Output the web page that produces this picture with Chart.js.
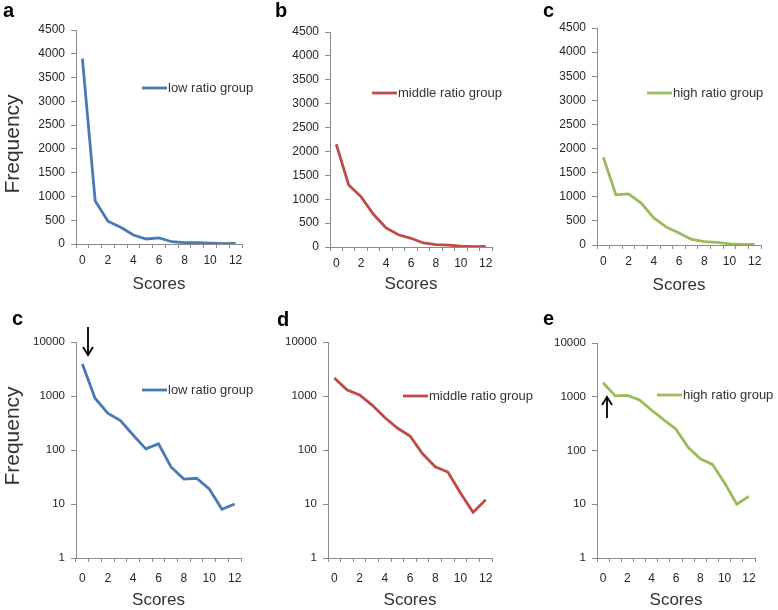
<!DOCTYPE html>
<html>
<head>
<meta charset="utf-8">
<script src="https://cdn.jsdelivr.net/npm/chart.js@4"></script>
<style>
  body { margin: 0; background: #fff; width: 778px; height: 610px; position: relative; overflow: hidden; }
  canvas { position: absolute; }
</style>
</head>
<body>
<canvas id="panelA"></canvas>
<canvas id="panelB"></canvas>
<canvas id="panelC"></canvas>
<canvas id="panelC2"></canvas>
<canvas id="panelD"></canvas>
<canvas id="panelE"></canvas>
<script>
// data
const scores = ['0', '1', '2', '3', '4', '5', '6', '7', '8', '9', '10', '11', '12'];
const lowRatio = [3900, 910, 480, 350, 190, 105, 130, 48, 29, 30, 19, 8, 10];
const middleRatio = [2150, 1300, 1050, 680, 400, 255, 182, 85, 49, 39, 16, 7, 12];
const highRatio = [1820, 1040, 1060, 870, 560, 370, 250, 115, 70, 55, 25, 10, 14];
const linearTicks = [0, 500, 1000, 1500, 2000, 2500, 3000, 3500, 4000, 4500];
const logTicks = [1, 10, 100, 1000, 10000];

const FONT = '"Liberation Sans", Arial, sans-serif';
const BLUE = '#4a7ab5';
const RED = '#be4b48';
const GREEN = '#9bbb59';

// draws the panel letter, the y title, the inline legend and the arrows
const panelDecor = {
    id: 'panelDecor',
    afterDraw(chart, args, opts) {
        const ctx = chart.ctx;
        const ds = chart.data.datasets[0];
        ctx.save();
        ctx.fillStyle = '#000';
        ctx.font = 'bold 20px ' + FONT;
        ctx.textBaseline = 'alphabetic';
        ctx.fillText(opts.letter, opts.letterX, opts.letterY);

        if (opts.yTitle) {
            ctx.save();
            ctx.translate(opts.yTitle.x, opts.yTitle.y);
            ctx.rotate(-Math.PI / 2);
            ctx.fillStyle = '#333';
            ctx.font = '21px ' + FONT;
            ctx.textAlign = 'center';
            ctx.textBaseline = 'middle';
            ctx.fillText('Frequency', 0, 0);
            ctx.restore();
        }

        ctx.strokeStyle = ds.borderColor;
        ctx.lineWidth = ds.borderWidth;
        ctx.beginPath();
        ctx.moveTo(opts.legendX, opts.legendY);
        ctx.lineTo(opts.legendX + 25, opts.legendY);
        ctx.stroke();
        ctx.fillStyle = '#333';
        ctx.font = '13px ' + FONT;
        ctx.textBaseline = 'middle';
        ctx.fillText(ds.label, opts.legendX + 26, opts.legendY);

        if (opts.arrow) {
            const a = opts.arrow;
            const dir = a.tipY > a.tailY ? -1 : 1;
            ctx.strokeStyle = '#000';
            ctx.lineWidth = 1.8;
            ctx.beginPath();
            ctx.moveTo(a.x, a.tailY);
            ctx.lineTo(a.x, a.tipY);
            ctx.moveTo(a.x - 5, a.tipY + dir * 8);
            ctx.lineTo(a.x, a.tipY);
            ctx.lineTo(a.x + 5, a.tipY + dir * 8);
            ctx.stroke();
        }
        ctx.restore();
    }
};

function makePanel(id, cell, area, cfg) {
    const canvas = document.getElementById(id);
    canvas.width = cell.w;
    canvas.height = cell.h;
    canvas.style.left = cell.x + 'px';
    canvas.style.top = cell.y + 'px';

    const yWidth = area.l - cell.x;
    const xHeight = cfg.scoresY + 10 - area.b;
    const isLog = cfg.log;

    const yScale = {
        type: isLog ? 'logarithmic' : 'linear',
        min: isLog ? 1 : 0,
        max: isLog ? 10000 : 4500,
        afterBuildTicks: s => { s.ticks = (isLog ? logTicks : linearTicks).map(v => ({ value: v })); },
        afterFit: s => { s.width = yWidth; },
        border: { color: '#8c8c8c', width: 1 },
        grid: { drawOnChartArea: false, tickLength: 5, color: '#8c8c8c' },
        ticks: {
            padding: 6,
            color: '#262626',
            font: { family: FONT, size: isLog ? 11.5 : 12 },
            callback: v => String(v)
        }
    };

    const xScale = {
        type: 'category',
        offset: true,
        afterFit: s => { s.height = xHeight; },
        border: { color: '#8c8c8c', width: 1 },
        grid: { offset: true, drawOnChartArea: false, tickLength: 4, color: '#8c8c8c' },
        ticks: {
            autoSkip: false,
            maxRotation: 0,
            padding: cfg.log ? 9 : 5,
            color: '#262626',
            font: { family: FONT, size: 12 },
            callback: (v, i) => (i % 2 === 0 ? scores[i] : '')
        },
        title: {
            display: true,
            text: 'Scores',
            color: '#333',
            font: { family: FONT, size: 17 },
            padding: 0
        }
    };

    const off = p => ({ x: p[0] - cell.x, y: p[1] - cell.y });
    const letter = off(cfg.letterAt);
    const legend = off(cfg.legendAt);
    const yTitle = cfg.yTitleAt ? off(cfg.yTitleAt) : null;
    let arrow = null;
    if (cfg.arrow) {
        arrow = {
            x: cfg.arrow.x - cell.x,
            tailY: cfg.arrow.tailY - cell.y,
            tipY: cfg.arrow.tipY - cell.y
        };
    }

    return new Chart(canvas, {
        type: 'line',
        data: {
            labels: scores,
            datasets: [{
                label: cfg.label,
                data: cfg.values,
                borderColor: cfg.color,
                borderWidth: 2.8,
                pointRadius: 0,
                tension: 0,
                fill: false
            }]
        },
        options: {
            responsive: false,
            animation: false,
            devicePixelRatio: 1,
            layout: {
                padding: {
                    left: 0,
                    top: area.t - cell.y,
                    right: cell.x + cell.w - area.r,
                    bottom: cell.y + cell.h - area.b - xHeight
                }
            },
            scales: { x: xScale, y: yScale },
            plugins: {
                legend: { display: false },
                tooltip: { enabled: false },
                panelDecor: {
                    letter: cfg.letter,
                    letterX: letter.x,
                    letterY: letter.y,
                    legendX: legend.x,
                    legendY: legend.y,
                    yTitle: yTitle,
                    arrow: arrow
                }
            }
        },
        plugins: [panelDecor]
    });
}

makePanel('panelA', { x: 0, y: 0, w: 260, h: 300 }, { l: 76, t: 30, r: 242, b: 244 }, {
    log: false, values: lowRatio, label: 'low ratio group', color: BLUE,
    scoresY: 285, letter: 'a', letterAt: [3, 17], legendAt: [142, 88], yTitleAt: [13, 144]
});
makePanel('panelB', { x: 260, y: 0, w: 280, h: 300 }, { l: 330, t: 32, r: 492, b: 247 }, {
    log: false, values: middleRatio, label: 'middle ratio group', color: RED,
    scoresY: 285, letter: 'b', letterAt: [275, 17], legendAt: [372, 93]
});
makePanel('panelC', { x: 520, y: 0, w: 258, h: 300 }, { l: 597, t: 28, r: 761, b: 245 }, {
    log: false, values: highRatio, label: 'high ratio group', color: GREEN,
    scoresY: 286, letter: 'c', letterAt: [543, 17], legendAt: [647, 93]
});
makePanel('panelC2', { x: 0, y: 300, w: 260, h: 310 }, { l: 76, t: 342, r: 241, b: 558 }, {
    log: true, values: lowRatio, label: 'low ratio group', color: BLUE,
    scoresY: 601, letter: 'c', letterAt: [12, 325], legendAt: [142, 390], yTitleAt: [13, 436],
    arrow: { x: 88, tailY: 327, tipY: 355 }
});
makePanel('panelD', { x: 260, y: 300, w: 280, h: 310 }, { l: 328, t: 342, r: 492, b: 558 }, {
    log: true, values: middleRatio, label: 'middle ratio group', color: RED,
    scoresY: 601, letter: 'd', letterAt: [277, 326], legendAt: [403, 396]
});
makePanel('panelE', { x: 520, y: 300, w: 258, h: 310 }, { l: 597, t: 343, r: 755, b: 558 }, {
    log: true, values: highRatio, label: 'high ratio group', color: GREEN,
    scoresY: 601, letter: 'e', letterAt: [543, 325], legendAt: [657, 395],
    arrow: { x: 607, tailY: 418, tipY: 397 }
});
</script>
</body>
</html>
